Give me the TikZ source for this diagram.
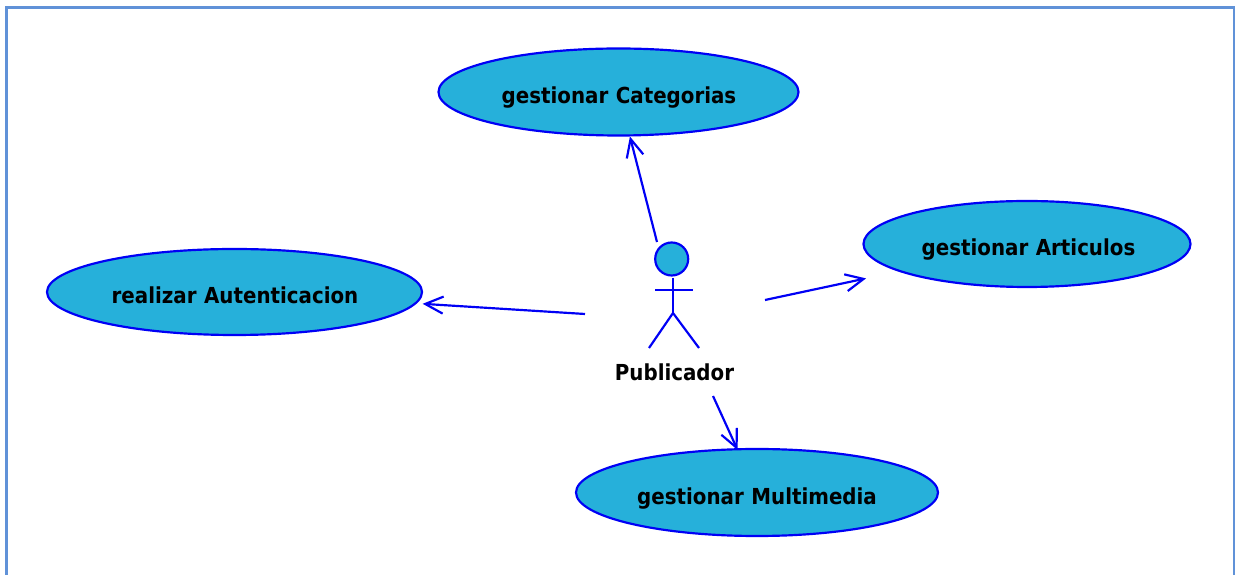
\documentclass[tikz,border=0pt]{standalone}
\usepackage{fontspec}
\setmainfont[WordSpace=1.1]{DejaVu Sans Condensed}
\usetikzlibrary{shapes.geometric,arrows.meta}
\definecolor{fillblue}{RGB}{38,176,218}
\definecolor{lineblue}{RGB}{0,0,245}
\definecolor{frameblue}{RGB}{96,146,216}
\tikzset{
	usecase/.style={ellipse,draw=lineblue,fill=fillblue,line width=.62pt,inner sep=0pt},
	boldlabel/.style={font=\fontsize{6.27}{7}\selectfont\bfseries},
	assoc/.style={draw=lineblue,line width=.62pt,-{Straight Barb[length=.18cm,width=.17cm]}},
	actorline/.style={draw=lineblue,line width=.62pt}
}
\begin{document}
\begin{tikzpicture}
	\useasboundingbox (0,0) rectangle (12.41,-5.75);
	\coordinate (fa) at (.065,-5.8);
	\coordinate (fb) at (.065,-.075);
	\coordinate (fc) at (12.34,-.075);
	\coordinate (fd) at (12.34,-5.8);
	\draw[frameblue,line width=.7pt] (fa) -- (fb) -- (fc) -- (fd);
	\node[usecase,minimum width=3.6cm,minimum height=.87cm] (cat) at (6.185,-.92) {};
	\node[usecase,minimum width=3.27cm,minimum height=.86cm] (art) at (10.27,-2.44) {};
	\node[usecase,minimum width=3.75cm,minimum height=.86cm] (aut) at (2.345,-2.92) {};
	\node[usecase,minimum width=3.62cm,minimum height=.87cm] (mul) at (7.57,-4.925) {};
	\node[boldlabel] (catlabel) at (6.19,-.98) {gestionar Categorias};
	\node[boldlabel] (artlabel) at (10.285,-2.5) {gestionar Articulos};
	\node[boldlabel] (autlabel) at (2.35,-2.95) {realizar Autenticacion};
	\node[boldlabel] (mullabel) at (7.57,-4.99) {gestionar Multimedia};
	% actor
	\node[circle,draw=lineblue,fill=fillblue,line width=.62pt,inner sep=0pt,minimum size=.33cm] (head) at (6.717,-2.59) {};
	\coordinate (neck) at (6.73,-2.78);
	\coordinate (hip) at (6.73,-3.13);
	\coordinate (handl) at (6.55,-2.9);
	\coordinate (handr) at (6.93,-2.9);
	\coordinate (footl) at (6.49,-3.48);
	\coordinate (footr) at (6.99,-3.48);
	\draw[actorline] (neck) -- (hip);
	\draw[actorline] (handl) -- (handr);
	\draw[actorline] (footl) -- (hip) -- (footr);
	\node[boldlabel] (pub) at (6.745,-3.72) {Publicador};
	% free ends around the actor
	\coordinate (tocat) at (6.57,-2.42);
	\coordinate (toart) at (7.65,-3);
	\coordinate (toaut) at (5.85,-3.14);
	\coordinate (tomul) at (7.13,-3.96);
	\draw[assoc] (tocat) -- (cat);
	\draw[assoc,shorten >=.33cm] (toart) -- (art);
	\draw[assoc,shorten >=.06cm] (toaut) -- (aut);
	\draw[assoc,shorten >=-.02cm] (tomul) -- (mul);
\end{tikzpicture}
\end{document}
